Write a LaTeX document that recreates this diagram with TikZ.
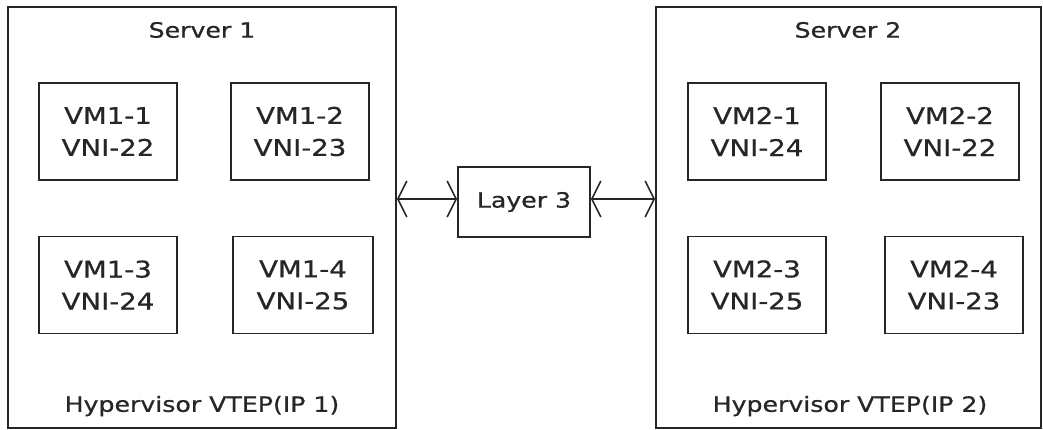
\documentclass[tikz,border=0pt]{standalone}
\usepackage{fontspec}
\setmainfont{DejaVu Sans}[FakeStretch=1.2,FakeBold=0.8]
\usetikzlibrary{arrows.meta}
\begin{document}
\begin{tikzpicture}[x=1pt,y=-1pt,
  box/.style={draw=black!85,line width=1.8pt,inner sep=0pt},
  vm/.style={box,minimum width=138pt,minimum height=97pt,align=center,text=black!85,font=\fontsize{23}{32}\selectfont},
  lbl/.style={font=\fontsize{21}{25}\selectfont,text=black!85,inner sep=0pt},
  link/.style={line width=1.6pt,draw=black!85,{Straight Barb[length=9pt,width=36pt,line width=1.6pt]}-{Straight Barb[length=9pt,width=36pt,line width=1.6pt]}}]
\useasboundingbox (0,0) rectangle (1043,430);
% servers
\node[box,minimum width=388pt,minimum height=421pt] (s1) at (202,217.5) {};
\node[box,minimum width=385pt,minimum height=421pt] (s2) at (848.5,217.5) {};
\node[lbl] (s1t) at (202,30) {Server 1};
\node[lbl] (s1b) at (202,406) {Hypervisor VTEP(IP 1)};
\node[lbl] (s2t) at (848,30) {Server 2};
\node[lbl] (s2b) at (850,406) {Hypervisor VTEP(IP 2)};
% VMs server 1
\node[vm] (v11) at (108,131.5) {VM1-1\\VNI-22};
\node[vm] (v12) at (300,131.5) {VM1-2\\VNI-23};
\node[vm] (v13) at (108,285) {VM1-3\\VNI-24};
\node[vm,minimum width=140pt] (v14) at (303,285) {VM1-4\\VNI-25};
% VMs server 2
\node[vm] (v21) at (757,131.5) {VM2-1\\VNI-24};
\node[vm] (v22) at (950,131.5) {VM2-2\\VNI-22};
\node[vm] (v23) at (757,285) {VM2-3\\VNI-25};
\node[vm] (v24) at (954,285) {VM2-4\\VNI-23};
% layer 3
\node[box,minimum width=132pt,minimum height=70pt,text=black!85,font=\fontsize{21}{25}\selectfont] (l3) at (524,202) {Layer 3};
\coordinate (a1) at (s1.east |- 0,199);
\coordinate (a2) at (l3.west |- 0,199);
\coordinate (a3) at (l3.east |- 0,199);
\coordinate (a4) at (s2.west |- 0,199);
\draw[link] (a1) -- (a2);
\draw[link] (a3) -- (a4);
\end{tikzpicture}
\end{document}
